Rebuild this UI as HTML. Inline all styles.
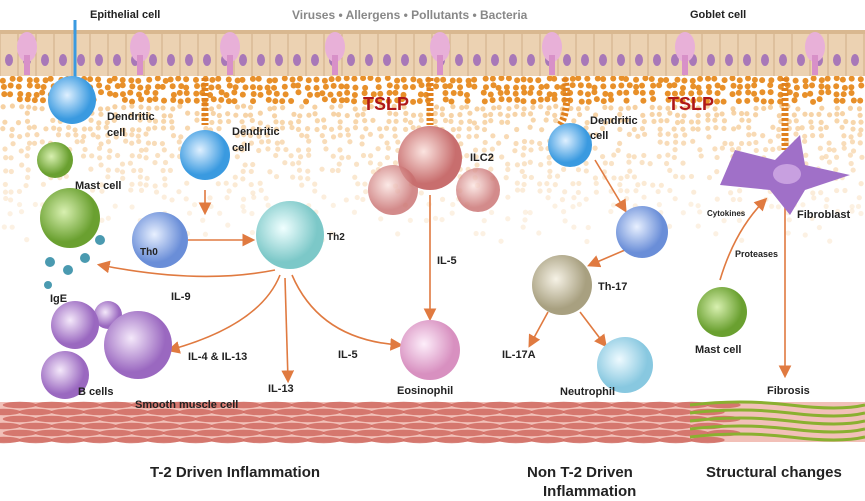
<!DOCTYPE html>
<html><head><meta charset="utf-8"><style>
html,body{margin:0;padding:0;background:#fff;width:865px;height:501px;overflow:hidden}
svg{display:block}
text{font-family:"Liberation Sans",sans-serif;font-weight:bold;fill:#222}
</style></head><body>
<svg id="s" width="865" height="501" viewBox="0 0 865 501">
<defs>
<radialGradient id="bl" cx="40%" cy="40%"><stop offset="0" stop-color="#dff0ff"/><stop offset="1" stop-color="#3a9ae0"/></radialGradient>
<radialGradient id="th0" cx="40%" cy="40%"><stop offset="0" stop-color="#e8f0ff"/><stop offset="1" stop-color="#6a8ed8"/></radialGradient>
<radialGradient id="th2" cx="40%" cy="40%"><stop offset="0" stop-color="#f0ffff"/><stop offset="1" stop-color="#7cc8c8"/></radialGradient>
<radialGradient id="pu" cx="40%" cy="40%"><stop offset="0" stop-color="#f4e8fa"/><stop offset="1" stop-color="#9a68c0"/></radialGradient>
<radialGradient id="sa" cx="40%" cy="40%"><stop offset="0" stop-color="#fbe4e0"/><stop offset="1" stop-color="#c86e6e"/></radialGradient>
<radialGradient id="eo" cx="40%" cy="40%"><stop offset="0" stop-color="#fdeefa"/><stop offset="1" stop-color="#d890c0"/></radialGradient>
<radialGradient id="be" cx="40%" cy="40%"><stop offset="0" stop-color="#f6f2e6"/><stop offset="1" stop-color="#a8a080"/></radialGradient>
<radialGradient id="ne" cx="40%" cy="40%"><stop offset="0" stop-color="#eefaff"/><stop offset="1" stop-color="#88c8e0"/></radialGradient>
<radialGradient id="gr" cx="40%" cy="40%"><stop offset="0" stop-color="#d8f0b0"/><stop offset="1" stop-color="#6aa030"/></radialGradient>
<marker id="a" markerWidth="8" markerHeight="8" refX="6" refY="4" orient="auto"><path d="M0,0 L8,4 L0,8 z" fill="#e07a40"/></marker>
</defs>
<g id="dots"></g>
<rect x="0" y="30" width="865" height="46" fill="#ecd2b2"/>
<rect x="0" y="30" width="865" height="4" fill="#d9b890"/>
<g id="epi"></g>
<g id="musc"></g>
<g stroke="#e07a40" stroke-width="1.6" fill="none" marker-end="url(#a)">
<path d="M205,190 L205,212"/>
<path d="M188,240 L252,240"/>
<path d="M275,270 Q200,285 100,265"/>
<path d="M280,275 Q260,325 170,350"/>
<path d="M285,278 L288,380"/>
<path d="M292,275 Q320,340 400,345"/>
<path d="M430,195 L430,318"/>
<path d="M595,160 L625,210"/>
<path d="M625,250 L590,265"/>
<path d="M548,312 L530,345"/>
<path d="M580,312 L605,345"/>
<path d="M720,280 Q735,230 765,200"/>
<path d="M785,200 L785,375"/>
</g>
<g stroke="#e0801e" stroke-width="7" stroke-dasharray="3 2" fill="none">
<path d="M205,78 L205,125"/><path d="M430,78 L430,125"/><path d="M565,78 Q570,110 560,125"/><path d="M785,78 L785,150"/>
</g>
<line x1="75" y1="20" x2="75" y2="85" stroke="#3a9ae0" stroke-width="3"/>
<g id="cells">
<circle cx="72" cy="100" r="24" fill="url(#bl)"/>
<circle cx="205" cy="155" r="25" fill="url(#bl)"/>
<circle cx="570" cy="145" r="22" fill="url(#bl)"/>
<circle cx="55" cy="160" r="18" fill="url(#gr)"/>
<circle cx="70" cy="218" r="30" fill="url(#gr)"/>
<circle cx="160" cy="240" r="28" fill="url(#th0)"/>
<circle cx="290" cy="235" r="34" fill="url(#th2)"/>
<circle cx="430" cy="158" r="32" fill="url(#sa)"/>
<circle cx="393" cy="190" r="25" fill="url(#sa)" opacity=".8"/>
<circle cx="478" cy="190" r="22" fill="url(#sa)" opacity=".8"/>
<circle cx="108" cy="315" r="14" fill="url(#pu)"/>
<circle cx="75" cy="325" r="24" fill="url(#pu)"/>
<circle cx="138" cy="345" r="34" fill="url(#pu)"/>
<circle cx="65" cy="375" r="24" fill="url(#pu)"/>
<circle cx="430" cy="350" r="30" fill="url(#eo)"/>
<circle cx="642" cy="232" r="26" fill="url(#th0)"/>
<circle cx="562" cy="285" r="30" fill="url(#be)"/>
<circle cx="625" cy="365" r="28" fill="url(#ne)"/>
<circle cx="722" cy="312" r="25" fill="url(#gr)"/>
<path d="M735,150 L775,160 L800,135 L805,165 L850,175 L805,190 L790,215 L770,190 L720,185 Z" fill="#a070c8"/>
<ellipse cx="787" cy="174" rx="14" ry="10" fill="#c8a0e0"/>
</g>
<g fill="#4a9ab0"><circle cx="50" cy="262" r="5"/><circle cx="68" cy="270" r="5"/><circle cx="85" cy="258" r="5"/><circle cx="100" cy="240" r="5"/><circle cx="48" cy="285" r="4"/></g>
<g font-size="11">
<text x="90" y="18">Epithelial cell</text>
<text x="292" y="19" style="fill:#888" font-size="12">Viruses  •  Allergens  •  Pollutants  •  Bacteria</text>
<text x="690" y="18">Goblet cell</text>
<text x="107" y="120">Dendritic</text><text x="107" y="136">cell</text>
<text x="232" y="135">Dendritic</text><text x="232" y="151">cell</text>
<text x="590" y="124">Dendritic</text><text x="590" y="139">cell</text>
<text x="75" y="189">Mast cell</text>
<text x="50" y="302">IgE</text>
<text x="171" y="300">IL-9</text>
<text x="140" y="255" font-size="10">Th0</text>
<text x="327" y="240" font-size="10">Th2</text>
<text x="470" y="161">ILC2</text>
<text x="437" y="264">IL-5</text>
<text x="188" y="360">IL-4 &amp; IL-13</text>
<text x="338" y="358">IL-5</text>
<text x="268" y="392">IL-13</text>
<text x="78" y="395">B cells</text>
<text x="397" y="394">Eosinophil</text>
<text x="135" y="408">Smooth muscle cell</text>
<text x="598" y="290">Th-17</text>
<text x="502" y="358">IL-17A</text>
<text x="560" y="395">Neutrophil</text>
<text x="797" y="218">Fibroblast</text>
<text x="707" y="216" font-size="8">Cytokines</text>
<text x="735" y="257" font-size="9">Proteases</text>
<text x="695" y="353">Mast cell</text>
<text x="767" y="394">Fibrosis</text>
<text x="363" y="110" font-size="18" style="fill:#b01818">TSLP</text>
<text x="668" y="110" font-size="18" style="fill:#b01818">TSLP</text>
<text x="150" y="477" font-size="15">T-2 Driven Inflammation</text>
<text x="527" y="477" font-size="15">Non T-2 Driven</text>
<text x="543" y="496" font-size="15">Inflammation</text>
<text x="706" y="477" font-size="15">Structural changes</text>
</g>
</svg>
<script>
var NS="http://www.w3.org/2000/svg";
function el(p,t,a){var e=document.createElementNS(NS,t);for(var k in a)e.setAttribute(k,a[k]);p.appendChild(e);return e;}
var d=document.getElementById("dots");
var seed=3;function r(){seed=(seed*9301+49297)%233280;return seed/233280;}
for(var y=78;y<240;y+=7){for(var x=2;x<865;x+=8){var dens=1-(y-78)/170;if(r()<dens){var c=y<100?"#e8902a":"#f4c890";el(d,"circle",{cx:x+r()*4,cy:y+r()*3,r:y<100?3:2.6,fill:c,opacity:y<100?1:Math.max(.25,dens)});}}}
var ep=document.getElementById("epi");
for(var x=0;x<865;x+=18){el(ep,"line",{x1:x,y1:34,x2:x,y2:76,stroke:"#d0ae88","stroke-width":1});el(ep,"ellipse",{cx:x+9,cy:60,rx:4,ry:6,fill:"#a878b8"});}
[27,140,230,335,440,552,685,815].forEach(function(x){el(ep,"ellipse",{cx:x,cy:47,rx:10,ry:15,fill:"#e8b0d8"});el(ep,"rect",{x:x-3,y:55,width:6,height:20,fill:"#d890c8"});});
var m=document.getElementById("musc");
el(m,"rect",{x:0,y:402,width:865,height:40,fill:"#f2c0b8"});
for(var yy=405;yy<442;yy+=7){for(var xx=-10;xx<700;xx+=32){el(m,"ellipse",{cx:xx+((yy/7)%2)*16,cy:yy,rx:17,ry:3.2,fill:"#d06a60",opacity:.85});}}
for(var yy=405;yy<442;yy+=8){el(m,"path",{d:"M690,"+yy+" Q740,"+(yy-6)+" 790,"+yy+" T865,"+yy,stroke:"#8ab030","stroke-width":3,fill:"none"});}
</script>
</body></html>
